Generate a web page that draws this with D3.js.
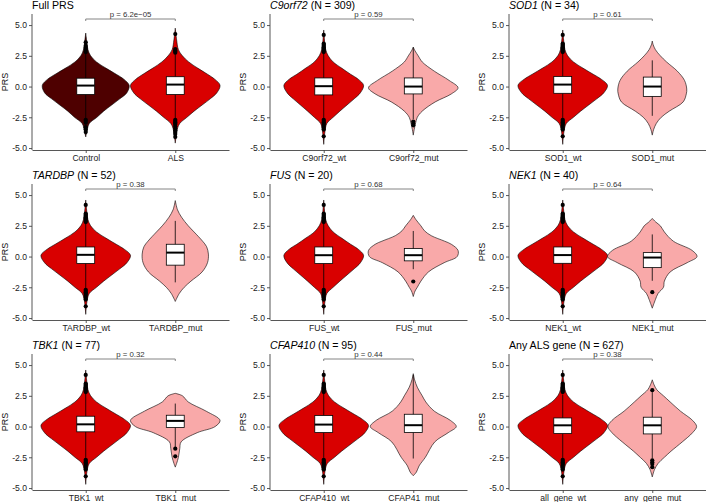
<!DOCTYPE html>
<html>
<head>
<meta charset="utf-8">
<script src="https://cdn.jsdelivr.net/npm/d3@7"></script>
<style>
  body { margin: 0; background: #fff; }
  text { font-family: "Liberation Sans", Arial, sans-serif; }
</style>
</head>
<body>
<svg id="chart" width="706" height="502"></svg>
<script>
// ---- data ----
const geneNames = ["Full PRS", "C9orf72", "SOD1", "TARDBP", "FUS", "NEK1", "TBK1", "CFAP410", "Any ALS gene"]
const italicTitle = [false, true, true, true, true, true, true, true, false]
const sampleN = [null, 309, 34, 52, 20, 40, 77, 95, 627]
const pLabels = ["p = 6.2e\u221205", "p = 0.59", "p = 0.61", "p = 0.38", "p = 0.68", "p = 0.64", "p = 0.32", "p = 0.44", "p = 0.38"]
const groupLabels = [
  ["Control", "ALS"], ["C9orf72_wt", "C9orf72_mut"], ["SOD1_wt", "SOD1_mut"],
  ["TARDBP_wt", "TARDBP_mut"], ["FUS_wt", "FUS_mut"], ["NEK1_wt", "NEK1_mut"],
  ["TBK1_wt", "TBK1_mut"], ["CFAP410_wt", "CFAP41_mut"], ["all_gene_wt", "any_gene_mut"]
]
const yTicks = [-5, -2.5, 0, 2.5, 5]

// box stats: [lower whisker, q1, median, q3, upper whisker]
const boxWt = [
  [-2.65, -0.65, 0.08, 0.68, 2.7],
  [-2.7, -0.68, 0.03, 0.7, 2.75],
  [-2.6, -0.55, 0.16, 0.82, 2.8],
  [-2.6, -0.57, 0.14, 0.78, 2.75],
  [-2.6, -0.57, 0.11, 0.78, 2.75],
  [-2.6, -0.55, 0.12, 0.78, 2.75],
  [-2.55, -0.43, 0.18, 0.84, 2.75],
  [-2.55, -0.49, 0.16, 0.9, 2.8],
  [-2.6, -0.57, 0.1, 0.7, 2.6]
]
const boxMut = [
  [-2.6, -0.65, 0.16, 0.8, 2.7],
  [-2.65, -0.6, 0.0, 0.7, 3.2],
  [-2.38, -0.8, 0.0, 0.77, 2.13],
  [-2.1, -0.7, 0.32, 1.0, 2.9],
  [-1.03, -0.35, 0.11, 0.65, 2.08],
  [-1.97, -0.9, -0.08, 0.32, 1.8],
  [-1.66, -0.08, 0.46, 0.92, 1.87],
  [-2.6, -0.49, 0.11, 1.0, 4.2],
  [-2.6, -0.6, 0.1, 0.76, 2.8]
]

// outlying points
const wtOutliers = [2.8, 2.9, 3.0, 3.1, 3.2, 3.3, 3.4, 3.5, 4.2, -2.7, -2.8, -2.9, -3.0, -3.1, -3.2, -3.35, -3.5, -4.05]
const controlOutliers = [2.8, 3.0, 3.15, 3.3, 3.6, -2.7, -2.8, -2.95, -3.3, -3.5, -3.7]
const alsOutliers = [2.75, 2.85, 2.95, 3.05, 4.27, -2.7, -2.8, -2.9, -3.0, -3.1, -3.25, -3.4, -3.55, -3.7, -3.85, -4.1]
const mutOutliers = [
  alsOutliers,
  [-2.85, -3.0, -3.15],
  [],
  [],
  [-2.03],
  [-2.9],
  [-1.8, -2.42],
  [],
  [2.96, -2.75, -2.9, -3.05, -3.3]
]

// violin outlines: [PRS, relative half-width]
const controlProfile = [[-4.1, 0], [-3.6, 0.03], [-3.0, 0.08], [-2.5, 0.25], [-2.0, 0.4], [-1.5, 0.58], [-1.0, 0.76], [-0.5, 0.92], [0.1, 0.97], [0.6, 0.85], [1.0, 0.68], [1.5, 0.45], [2.0, 0.24], [2.5, 0.11], [3.0, 0.05], [3.6, 0.025], [4.35, 0]]
const alsProfile = [[-4.6, 0], [-4.0, 0.02], [-3.4, 0.05], [-3.0, 0.1], [-2.5, 0.26], [-2.0, 0.42], [-1.5, 0.6], [-1.0, 0.78], [-0.5, 0.93], [0.1, 1.0], [0.6, 0.88], [1.0, 0.72], [1.5, 0.5], [2.0, 0.3], [2.5, 0.16], [3.0, 0.07], [3.8, 0.03], [4.75, 0]]
const wtWide = [[-4.7, 0], [-4.2, 0.01], [-3.6, 0.03], [-3.0, 0.08], [-2.5, 0.24], [-2.0, 0.4], [-1.5, 0.58], [-1.0, 0.76], [-0.5, 0.92], [0.1, 1.0], [0.6, 0.86], [1.0, 0.68], [1.5, 0.45], [2.0, 0.24], [2.5, 0.11], [3.0, 0.05], [3.6, 0.025], [4.2, 0.01], [4.6, 0]]
const wtNarrow = [[-4.7, 0], [-4.2, 0.01], [-3.6, 0.03], [-3.0, 0.07], [-2.5, 0.21], [-2.0, 0.36], [-1.5, 0.52], [-1.0, 0.68], [-0.5, 0.82], [0.1, 0.89], [0.6, 0.77], [1.0, 0.6], [1.5, 0.4], [2.0, 0.21], [2.5, 0.1], [3.0, 0.045], [3.6, 0.02], [4.2, 0.01], [4.6, 0]]
const wtProfiles = [controlProfile, wtNarrow, wtWide, wtWide, wtNarrow, wtWide, wtWide, wtWide, wtWide]
const mutProfiles = [
  alsProfile,
  [[-3.95, 0], [-3.5, 0.02], [-3.0, 0.05], [-2.5, 0.09], [-2.0, 0.2], [-1.25, 0.49], [-0.6, 0.85], [-0.1, 1.0], [0.5, 0.8], [1.25, 0.47], [2.0, 0.2], [2.5, 0.11], [2.9, 0.04], [3.2, 0]],
  [[-3.95, 0], [-3.5, 0.03], [-3.0, 0.09], [-2.5, 0.2], [-2.0, 0.38], [-1.25, 0.69], [-0.6, 0.76], [-0.2, 0.77], [0.5, 0.72], [1.25, 0.56], [2.0, 0.32], [2.5, 0.18], [3.0, 0.07], [3.4, 0.02], [3.7, 0]],
  [[-3.65, 0], [-3.0, 0.09], [-2.5, 0.2], [-2.0, 0.35], [-1.25, 0.6], [-0.5, 0.72], [0.2, 0.74], [0.8, 0.7], [1.25, 0.61], [2.0, 0.42], [2.5, 0.29], [3.2, 0.14], [3.8, 0.05], [4.55, 0]],
  [[-3.25, 0], [-2.8, 0.04], [-2.5, 0.09], [-2.0, 0.17], [-1.25, 0.34], [-0.5, 0.69], [0, 0.98], [0.5, 1.0], [1.0, 0.85], [1.25, 0.7], [1.7, 0.4], [2.1, 0.25], [2.5, 0.17], [3.0, 0.06], [3.35, 0]],
  [[-4.2, 0], [-3.5, 0.07], [-3.0, 0.13], [-2.5, 0.25], [-2.0, 0.27], [-1.25, 0.4], [-0.5, 0.78], [0, 1.0], [0.5, 0.89], [1.25, 0.47], [2.0, 0.27], [2.5, 0.18], [2.8, 0.08], [3.1, 0]],
  [[-3.3, 0], [-3.0, 0.03], [-2.5, 0.07], [-1.8, 0.1], [-1.25, 0.13], [-0.5, 0.49], [0, 0.89], [0.5, 1.0], [1.25, 0.69], [2.0, 0.29], [2.5, 0.16], [2.7, 0]],
  [[-4.0, 0], [-3.7, 0.07], [-3.2, 0.13], [-2.5, 0.27], [-1.25, 0.48], [-0.5, 0.78], [0, 0.96], [0.5, 0.83], [1.25, 0.47], [2.0, 0.28], [2.5, 0.2], [3.2, 0.09], [3.8, 0.03], [4.3, 0]],
  [[-4.1, 0], [-3.5, 0.05], [-3.0, 0.13], [-2.5, 0.27], [-2.0, 0.42], [-1.25, 0.67], [-0.5, 0.9], [0, 0.99], [0.5, 0.9], [1.25, 0.63], [2.0, 0.4], [2.5, 0.25], [3.0, 0.1], [3.4, 0.04], [3.8, 0]]
]

// ---- layout ----
const colX = [32, 270, 509]
const rowY = [0, 170, 340]
const plotW = 197
const yDomain = [-5.16, 5.9]
const colDark = "#4e0000", colRed = "#d90000", colPink = "#f9a9a9"

const svg = d3.select("#chart")

function drawViolin(g, profile, cx, y, w, fill) {
  let area = d3.area()
    .curve(d3.curveCatmullRom)
    .y(d => y(d[0]))
    .x0(d => cx - w(d[1]))
    .x1(d => cx + w(d[1]))
  g.append("path")
    .attr("d", area(profile))
    .attr("fill", fill)
    .attr("stroke", "#000")
    .attr("stroke-width", 0.6)
}

function drawBox(g, stats, outl, cx, y, bw) {
  let [lo, q1, med, q3, hi] = stats
  g.append("line")
    .attr("x1", cx).attr("x2", cx)
    .attr("y1", y(lo)).attr("y2", y(hi))
    .attr("stroke", "#000").attr("stroke-width", 0.8)
  g.append("rect")
    .attr("x", cx - bw / 2).attr("width", bw)
    .attr("y", y(q3)).attr("height", y(q1) - y(q3))
    .attr("fill", "#fff").attr("stroke", "#000").attr("stroke-width", 0.8)
  g.append("line")
    .attr("x1", cx - bw / 2).attr("x2", cx + bw / 2)
    .attr("y1", y(med)).attr("y2", y(med))
    .attr("stroke", "#000").attr("stroke-width", 2)
  g.selectAll(null)
    .data(outl).enter()
    .append("circle")
    .attr("cx", cx).attr("cy", d => y(d))
    .attr("r", 2.1)
    .attr("fill", "#000")
}

const tickFmt = d => d3.format(".1f")(d).replace("\u2212", "-")

geneNames.forEach((name, i) => {
  let g = svg.append("g")
    .attr("transform", `translate(${colX[i % 3]},${rowY[Math.floor(i / 3)]})`)

  let x = d3.scalePoint().domain(groupLabels[i]).range([0, plotW]).padding(0.6)
  let y = d3.scaleLinear().domain(yDomain).range([150, 14])
  let w = d3.scaleLinear().domain([0, 1]).range([0, x.step() / 2])
  let bw = x.step() * 0.2
  let [g0, g1] = groupLabels[i]

  drawViolin(g, wtProfiles[i], x(g0), y, w, i == 0 ? colDark : colRed)
  drawViolin(g, mutProfiles[i], x(g1), y, w, i == 0 ? colRed : colPink)
  drawBox(g, boxWt[i], i == 0 ? controlOutliers : wtOutliers, x(g0), y, bw)
  drawBox(g, boxMut[i], mutOutliers[i], x(g1), y, bw)

  // axes
  let yAxis = g.append("g")
    .call(d3.axisLeft(y).tickValues(yTicks).tickFormat(tickFmt).tickSize(3).tickSizeOuter(0).tickPadding(2))
  let xAxis = g.append("g")
    .attr("transform", "translate(0,150)")
    .call(d3.axisBottom(x).tickSize(3).tickSizeOuter(0).tickPadding(1.5))
  ;[yAxis, xAxis].forEach(a => {
    a.selectAll("path, line").attr("stroke", "#444").attr("stroke-width", 0.9)
    a.selectAll("text").attr("fill", "#222").style("font-size", "8.6px")
  })
  yAxis.select(".domain").attr("d", `M0,14V150`)

  g.append("text")
    .attr("transform", `translate(-24.5,${(14 + 150) / 2}) rotate(-90)`)
    .attr("text-anchor", "middle")
    .style("font-size", "9px")
    .attr("fill", "#111")
    .text("PRS")

  // title
  let t = g.append("text")
    .attr("x", 0).attr("y", 8.5)
    .style("font-size", "10.6px")
    .attr("fill", "#000")
  t.append("tspan")
    .style("font-style", italicTitle[i] ? "italic" : "normal")
    .text(name)
  if (sampleN[i] != null) t.append("tspan").text(` (N = ${sampleN[i]})`)

  // significance bracket
  let by = 19
  g.append("path")
    .attr("d", `M${x(g0)},${by + 2}V${by}H${x(g1)}V${by + 2}`)
    .attr("fill", "none")
    .attr("stroke", "#777")
    .attr("stroke-width", 0.9)
  g.append("text")
    .attr("x", (x(g0) + x(g1)) / 2).attr("y", by - 1.8)
    .attr("text-anchor", "middle")
    .style("font-size", "7.8px")
    .attr("fill", "#333")
    .text(pLabels[i])
})
</script>
</body>
</html>
